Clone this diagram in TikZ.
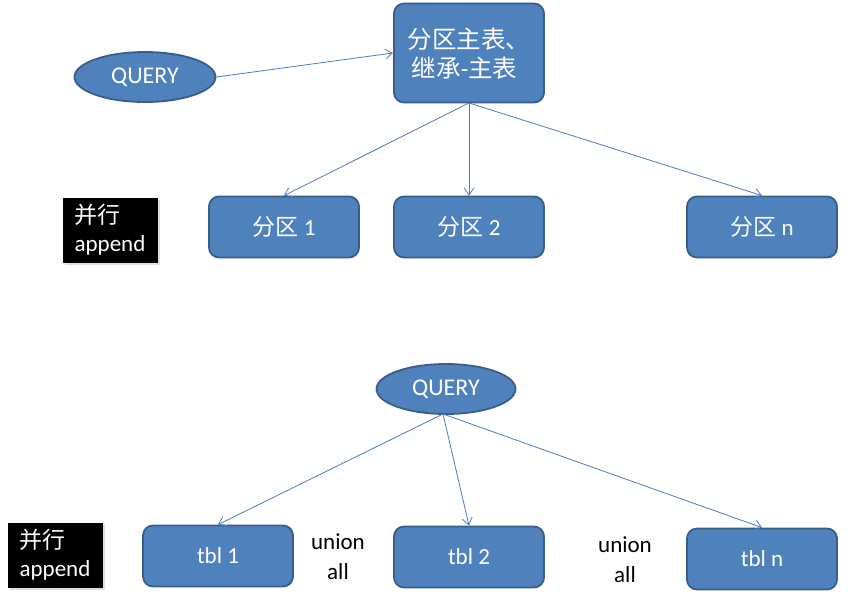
\documentclass[tikz,border=0pt]{standalone}
\usepackage{fontspec}
\setmainfont{Carlito}
\newfontfamily\cjk{Noto Sans CJK SC}
\usetikzlibrary{shapes.geometric,arrows.meta,shadows}
\definecolor{boxfill}{HTML}{4F81BD}
\definecolor{boxedge}{HTML}{385D8A}
\definecolor{linec}{HTML}{4A7EBB}
\begin{document}
\begin{tikzpicture}[x=1pt,y=-1pt,
  rbox/.style={draw=boxedge,line width=1.8pt,fill=boxfill,rounded corners=10pt,
    minimum width=150pt,minimum height=61pt,text=white,font=\fontsize{23}{27}\selectfont,inner sep=0pt},
  qell/.style={ellipse,draw=boxedge,line width=1.8pt,fill=boxfill,minimum width=141pt,minimum height=50pt,
    text=white,font=\fontsize{24}{27}\selectfont,inner sep=0pt},
  blk/.style={fill=black,text=white,minimum width=95pt,minimum height=65pt,inner sep=0pt,
    font=\fontsize{23}{28}\selectfont,align=left,drop shadow={shadow xshift=2pt,shadow yshift=-2pt,fill=black!25}},
  conn/.style={draw=linec,line width=0.8pt,-{Straight Barb[length=7pt,width=10pt,line width=0.8pt]}},
  lbl/.style={font=\fontsize{23}{30}\selectfont,align=center,text=black}]
\useasboundingbox (0,0) rectangle (851,603);
% top part
\node[qell] (q1) at (145,77) {QUERY};
\node[rbox,minimum height=99pt] (m) at (469,53) {};
\node[text=white,font=\fontsize{24.5}{29}\selectfont,align=left,anchor=center] (mt) at (469,54) {{\cjk 分区主表、}\\\,{\cjk 继承}-{\cjk 主表}};
\node[rbox] (p1) at (284,227) {{\cjk 分区} 1};
\node[rbox] (p2) at (469,227) {{\cjk 分区} 2};
\node[rbox] (pn) at (762,227) {{\cjk 分区} n};
\node[blk] (b1) at (110,230) {{\cjk 并行}\\append};
\coordinate (mb) at (469,103);
\coordinate (ml) at (393,53);
\draw[conn] (q1.east) -- (ml);
\draw[conn] (mb) -- (p1.north);
\draw[conn] (mb) -- (p2.north);
\draw[conn] (mb) -- (pn.north);
% bottom part
\node[qell,minimum width=139pt] (q2) at (446,389) {QUERY};
\node[rbox] (t1) at (218,556) {tbl 1};
\node[rbox] (t2) at (469,557) {tbl 2};
\node[rbox] (tn) at (762,559) {tbl n};
\node[blk] (b2) at (55,555) {{\cjk 并行}\\append};
\node[lbl] (u1) at (338,557) {union\\all};
\node[lbl] (u2) at (625,560) {union\\all};
\coordinate (qb) at (443,414);
\draw[conn] (qb) -- (t1.north);
\draw[conn] (qb) -- (t2.north);
\draw[conn] (qb) -- (tn.north);
\end{tikzpicture}
\end{document}
